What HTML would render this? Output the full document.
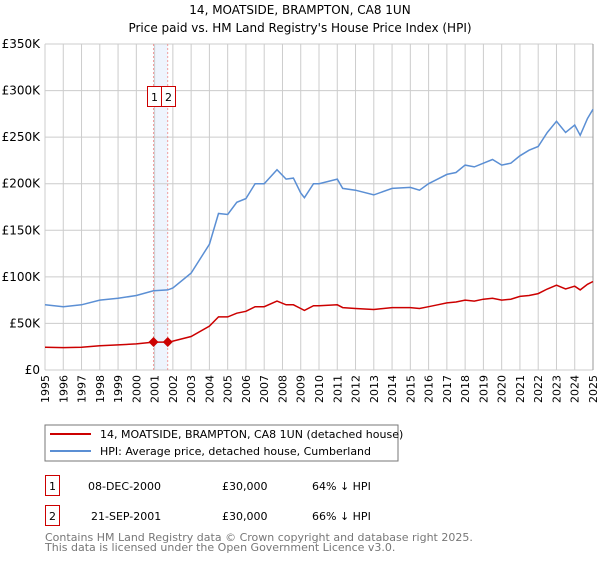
<!DOCTYPE html>
<html><head><meta charset="utf-8"><style>
body{margin:0;background:#fff;font-family:"Liberation Sans","DejaVu Sans",sans-serif;}
</style></head><body>
<svg width="600" height="560" xmlns="http://www.w3.org/2000/svg" font-family="DejaVu Sans, Liberation Sans, sans-serif">
<text x="300" y="14" text-anchor="middle" font-size="12">14, MOATSIDE, BRAMPTON, CA8 1UN</text>
<text x="300" y="32" text-anchor="middle" font-size="12">Price paid vs. HM Land Registry's House Price Index (HPI)</text>
<g id="grid"></g>
<g id="series"></g>
<rect x="45" y="425" width="353" height="36" fill="#fff" stroke="#777"/>
<line x1="50" y1="434" x2="91" y2="434" stroke="#cc0000" stroke-width="2"/>
<text x="100" y="438" font-size="11">14, MOATSIDE, BRAMPTON, CA8 1UN (detached house)</text>
<line x1="50" y1="451" x2="91" y2="451" stroke="#5b8fd4" stroke-width="2"/>
<text x="100" y="455" font-size="11">HPI: Average price, detached house, Cumberland</text>
<g font-size="11">
<rect x="45.5" y="475.5" width="14" height="20" fill="none" stroke="#cc0000"/>
<text x="52.5" y="490" text-anchor="middle">1</text>
<text x="88" y="490">08-DEC-2000</text><text x="222" y="490">£30,000</text><text x="312" y="490">64% ↓ HPI</text>
<rect x="45.5" y="505.5" width="14" height="20" fill="none" stroke="#cc0000"/>
<text x="52.5" y="520" text-anchor="middle">2</text>
<text x="91" y="520">21-SEP-2001</text><text x="222" y="520">£30,000</text><text x="312" y="520">66% ↓ HPI</text>
</g>
<text x="45" y="541" font-size="11" fill="#777">Contains HM Land Registry data © Crown copyright and database right 2025.</text>
<text x="45" y="551" font-size="11" fill="#777">This data is licensed under the Open Government Licence v3.0.</text>
</svg>
<script>
const dates=[1995,1996,1997,1998,1999,2000,2000.94,2001.72,2002,2003,2004,2004.5,2005,2005.5,2006,2006.5,2007,2007.7,2008.2,2008.6,2009,2009.2,2009.7,2010,2011,2011.3,2012,2013,2014,2015,2015.5,2016,2016.5,2017,2017.5,2018,2018.5,2019,2019.5,2020,2020.5,2021,2021.5,2022,2022.5,2023,2023.5,2024,2024.3,2024.7,2025];
const hpiValues=[70,68,70,75,77,80,85,86,88,104,135,168,167,180,184,200,200,215,205,206,190,185,200,200,205,195,193,188,195,196,193,200,205,210,212,220,218,222,226,220,222,230,236,240,255,267,255,263,252,270,280];
const priceValues=[24.5,24,24.5,26,27,28,30,30,31,36,47,57,57,61,63,68,68,74,70,70,66,64,69,69,70,67,66,65,67,67,66,68,70,72,73,75,74,76,77,75,76,79,80,82,87,91,87,90,86,92,95];
const saleDates=[2000.94,2001.72];
const salePrices=[30,30];
const yTicks=[0,50,100,150,200,250,300,350];
const yLabels=["£0","£50K","£100K","£150K","£200K","£250K","£300K","£350K"];
const xTicks=[1995,1996,1997,1998,1999,2000,2001,2002,2003,2004,2005,2006,2007,2008,2009,2010,2011,2012,2013,2014,2015,2016,2017,2018,2019,2020,2021,2022,2023,2024,2025];
const NS="http://www.w3.org/2000/svg";
const X0=45,X1=593,Y0=370,Y1=44;
const xs=d=>X0+(d-1995)/30*(X1-X0);
const ys=v=>Y0-v/350*(Y0-Y1);
function mk(t,a,p){const e=document.createElementNS(NS,t);for(const k in a)e.setAttribute(k,a[k]);p.appendChild(e);return e;}
const g=document.getElementById('grid'),s=document.getElementById('series');
const band=mk('rect',{x:xs(saleDates[0]),y:Y1,width:xs(saleDates[1])-xs(saleDates[0]),height:Y0-Y1,fill:'#eef4fd'},g);


yTicks.forEach((v,i)=>{
 const l=mk('line',{x1:X0,x2:X1,y1:ys(v),y2:ys(v),stroke:'#cccccc'},g);
 
 
 const t=mk('text',{x:40,y:ys(v)+4,'text-anchor':'end','font-size':'12'},g);t.textContent=yLabels[i];
 
 
});
xTicks.forEach(d=>{
 const l=mk('line',{x1:xs(d),x2:xs(d),y1:Y1,y2:Y0,stroke:d===2025?'#999':'#cccccc'},g);
 
 
 const t=mk('text',{x:0,y:0,'font-size':'11','text-anchor':'end',transform:`translate(${xs(d)+4},375) rotate(-90)`},g);t.textContent=d;
 
 
});
saleDates.forEach((d,i)=>{
 const l=mk('line',{x1:xs(d),x2:xs(d),y1:Y1,y2:Y0,stroke:'#ee8888','stroke-width':0.8,'stroke-dasharray':'2,2'},g);
 
 
});
const pts=v=>dates.map((d,i)=>xs(d).toFixed(1)+','+ys(v[i]).toFixed(1)).join(' ');
const h=mk('polyline',{points:pts(hpiValues),fill:'none',stroke:'#5b8fd4','stroke-width':1.5},s);


const p=mk('polyline',{points:pts(priceValues),fill:'none',stroke:'#cc0000','stroke-width':1.5},s);


const mid=(xs(saleDates[0])+xs(saleDates[1]))/2;
saleDates.forEach((d,i)=>{
 const cx=xs(d),cy=ys(salePrices[i]);
 const m=mk('polygon',{points:`${cx},${cy-5} ${cx+5},${cy} ${cx},${cy+5} ${cx-5},${cy}`,fill:'#cc0000'},s);
 
 
 const bx=Math.round(mid)+0.5+(i===0?-14:0);
 const r=mk('rect',{x:bx,y:86.5,width:14,height:20,fill:'#fff',stroke:'#cc0000'},s);
 
 
 const t=mk('text',{x:bx+7,y:101,'text-anchor':'middle','font-size':'11'},s);t.textContent=String(i+1);
 
 
});
</script>
</body></html>
